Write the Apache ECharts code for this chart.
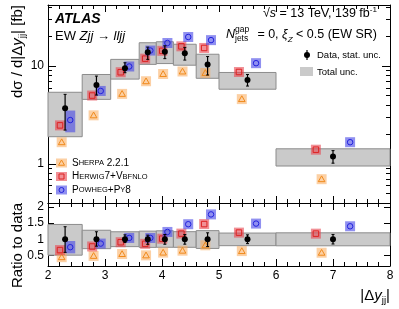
<!DOCTYPE html>
<html><head><meta charset="utf-8">
<script src="https://cdn.jsdelivr.net/npm/echarts@6/dist/echarts.min.js"></script>
<style>html,body{margin:0;padding:0;background:#fff}#c{width:399px;height:309px}</style>
</head><body><div id="c"></div>
<script>
// ---------------- data ----------------
const binEdges = [2, 2.6, 3.1, 3.6, 3.9, 4.2, 4.6, 5.0, 6.0, 8.0];
const dataXs   = [3.70, 6.40, 9.48, 13.8, 14.0, 13.5, 10.4, 7.2, 1.19];
const statLo   = [2.22, 5.06, 8.55, 11.7, 11.9, 11.5, 8.1, 6.25, 1.02];
const statHi   = [5.14, 7.9, 10.8, 15.6, 16.1, 15.5, 12.5, 8.2, 1.37];
const totLo    = [1.9, 4.57, 7.36, 10.4, 10.6, 10.2, 7.5, 5.8, 0.954];
const totHi    = [5.4, 8.2, 11.7, 17.3, 17.7, 16.7, 13.2, 8.6, 1.43];
const sherpaXs = [1.67, 3.14, 5.2, 7.0, 8.3, 8.8, 8.5, 4.6, 0.70];
const herwigXs = [2.48, 5.0, 8.65, 11.9, 14.3, 15.9, 15.3, 8.7, 1.40];
const powhegXs = [2.81, 5.57, 9.9, 14.4, 17.2, 19.8, 18.4, 10.7, 1.67];
const sherpaRelUnc = [0.03, 0.03, 0.03, 0.03, 0.03, 0.03, 0.03, 0.03, 0.03];
const herwigRelUnc = [0.08, 0.04, 0.04, 0.04, 0.04, 0.04, 0.04, 0.04, 0.04];
const powhegRelUnc = [0.25, 0.1, 0.1, 0.08, 0.05, 0.05, 0.05, 0.05, 0.05];
const xTickLabels = [2, 3, 4, 5, 6, 7, 8];
const logTickLabels = [1, 10];
const logMinorTicks = [0.4, 0.5, 0.6, 0.7, 0.8, 0.9, 2, 3, 4, 5, 6, 7, 8, 9, 20, 30, 40];
const ratioTickLabels = [0.5, 1, 1.5, 2];

// ---------------- styling ----------------
const FONT = 'Liberation Sans, Arial, Helvetica, sans-serif';
const gens = [
  {name: 'sherpa', xs: sherpaXs, unc: sherpaRelUnc, off: -0.10, sym: 'tri',  fill: 'rgba(250,170,90,0.55)', stroke: '#f08a1c'},
  {name: 'herwig', xs: herwigXs, unc: herwigRelUnc, off: -0.15, sym: 'rect', fill: 'rgba(232,70,80,0.6)', stroke: '#dd2222'},
  {name: 'powheg', xs: powhegXs, unc: powhegRelUnc, off: 0.15,  sym: 'circ', fill: 'rgba(70,70,230,0.6)', stroke: '#2222dd'}
];
const centers = binEdges.slice(0, -1).map((e, i) => (e + binEdges[i + 1]) / 2);
const widths = binEdges.slice(0, -1).map((e, i) => binEdges[i + 1] - e);

function symbolShape(sym, cx, cy, color, s) {
  if (sym === 'tri') return {type: 'polygon', shape: {points: [[cx, cy - s * 0.6], [cx + s * 0.6, cy + s * 0.45], [cx - s * 0.6, cy + s * 0.45]]}, style: {fill: 'none', stroke: color, lineWidth: 1}};
  if (sym === 'rect') return {type: 'rect', shape: {x: cx - s / 2, y: cy - s / 2, width: s, height: s}, style: {fill: 'none', stroke: color, lineWidth: 1}};
  return {type: 'circle', shape: {cx: cx, cy: cy, r: s / 2}, style: {fill: 'none', stroke: color, lineWidth: 1}};
}
function boxRender(params, api) {
  const p0 = api.coord([api.value(0), api.value(3)]);
  const p1 = api.coord([api.value(1), api.value(2)]);
  return {type: 'rect', shape: {x: p0[0], y: p0[1], width: p1[0] - p0[0], height: p1[1] - p0[1]},
          style: {fill: '#cacaca', stroke: '#8c8c8c', lineWidth: 1}};
}
function mcRender(g) {
  return function (params, api) {
    const x = api.value(0);
    const c = api.coord([x, api.value(1)]);
    const lo = api.coord([x, api.value(2)])[1];
    const hi = api.coord([x, api.value(3)])[1];
    const half = 5;
    const top = Math.min(hi, c[1] - half), bot = Math.max(lo, c[1] + half);
    return {type: 'group', children: [
      {type: 'rect', shape: {x: c[0] - half, y: top, width: 2 * half, height: bot - top}, style: {fill: g.fill}},
      symbolShape(g.sym, c[0], c[1], g.stroke, 5.5)
    ]};
  };
}
function dataRender(params, api) {
  const x = api.value(0);
  const c = api.coord([x, api.value(1)]);
  const lo = api.coord([x, api.value(2)])[1];
  const hi = api.coord([x, api.value(3)])[1];
  return {type: 'group', children: [
    {type: 'line', shape: {x1: c[0], y1: lo, x2: c[0], y2: hi}, style: {stroke: '#000', lineWidth: 1.2}},
    {type: 'line', shape: {x1: c[0] - 1.5, y1: lo, x2: c[0] + 1.5, y2: lo}, style: {stroke: '#000', lineWidth: 1}},
    {type: 'line', shape: {x1: c[0] - 1.5, y1: hi, x2: c[0] + 1.5, y2: hi}, style: {stroke: '#000', lineWidth: 1}},
    {type: 'circle', shape: {cx: c[0], cy: c[1], r: 3}, style: {fill: '#000'}}
  ]};
}

// ---------------- series data ----------------
const topBoxes = centers.map((c, i) => [binEdges[i], binEdges[i + 1], totLo[i], totHi[i]]);
const ratioBoxes = centers.map((c, i) => [binEdges[i], binEdges[i + 1], totLo[i] / dataXs[i], totHi[i] / dataXs[i]]);
const topData = centers.map((c, i) => [c, dataXs[i], statLo[i], statHi[i]]);
const ratioData = centers.map((c, i) => [c, 1, statLo[i] / dataXs[i], statHi[i] / dataXs[i]]);

const series = [
  {type: 'custom', xAxisIndex: 0, yAxisIndex: 0, renderItem: boxRender, data: topBoxes, z: 1, silent: true},
  {type: 'custom', xAxisIndex: 2, yAxisIndex: 4, renderItem: boxRender, data: ratioBoxes, z: 1, silent: true}
];
gens.forEach(g => {
  const top = centers.map((c, i) => [c + g.off * widths[i], g.xs[i], g.xs[i] * (1 - g.unc[i]), g.xs[i] * (1 + g.unc[i])]);
  const rat = centers.map((c, i) => {
    const r = g.xs[i] / dataXs[i];
    return [c + g.off * widths[i], r, r * (1 - g.unc[i]), r * (1 + g.unc[i])];
  });
  series.push({type: 'custom', xAxisIndex: 0, yAxisIndex: 0, renderItem: mcRender(g), data: top, z: 2, silent: true});
  series.push({type: 'custom', xAxisIndex: 2, yAxisIndex: 4, renderItem: mcRender(g), data: rat, z: 2, silent: true});
});
series.push({type: 'custom', xAxisIndex: 0, yAxisIndex: 0, renderItem: dataRender, data: topData, z: 3, silent: true});
series.push({type: 'custom', xAxisIndex: 2, yAxisIndex: 4, renderItem: dataRender, data: ratioData, z: 3, silent: true});

// ---------------- axes ----------------
function xAx(grid, pos, labels) {
  return {type: 'value', gridIndex: grid, position: pos, min: 2, max: 8, interval: 1,
    axisLine: {show: true, onZero: false, lineStyle: {color: '#000', width: 1}},
    axisTick: {show: true, inside: true, length: 7, lineStyle: {color: '#000'}},
    minorTick: {show: true, splitNumber: 5, length: 4, lineStyle: {color: '#000'}},
    splitLine: {show: false},
    axisLabel: {show: labels, customValues: xTickLabels, color: '#000', fontSize: 12, fontFamily: FONT, margin: 4}};
}
function logAx(pos, major) {
  return {type: 'log', logBase: 10, gridIndex: 0, position: pos, min: 0.4, max: 42,
    axisLine: {show: major, lineStyle: {color: '#000', width: 1}},
    axisTick: {show: true, inside: true, length: major ? 8 : 4, customValues: major ? logTickLabels : logMinorTicks, lineStyle: {color: '#000'}},
    splitLine: {show: false},
    axisLabel: {show: major && pos === 'left', customValues: logTickLabels, color: '#000', fontSize: 12, fontFamily: FONT, margin: 4}};
}
function ratAx(pos) {
  return {type: 'value', gridIndex: 1, position: pos, min: 0.18, max: 2.12,
    axisLine: {show: true, lineStyle: {color: '#000', width: 1}},
    axisTick: {show: true, inside: true, length: 6, customValues: ratioTickLabels, lineStyle: {color: '#000'}},
    splitLine: {show: false},
    axisLabel: {show: pos === 'left', customValues: ratioTickLabels, color: '#000', fontSize: 12, fontFamily: FONT, margin: 4}};
}

// ---------------- text & legends ----------------
const graphics = [];
function txt(x, y, text, opt) {
  graphics.push(Object.assign({type: 'text', x: x, y: y, silent: true, style: Object.assign({text: text, fill: '#000', fontFamily: FONT, fontSize: 12, verticalAlign: 'middle'}, opt.style || {})}, opt.el || {}));
}
const richBase = (fs) => ({
  n: {fontSize: fs, fontFamily: FONT, lineHeight: fs + 4},
  i: {fontSize: fs, fontFamily: FONT, fontStyle: 'italic', lineHeight: fs + 4},
  sub: {fontSize: fs * 0.65, fontFamily: FONT, lineHeight: fs * 0.5, verticalAlign: 'bottom'},
  subi: {fontSize: fs * 0.65, fontFamily: FONT, fontStyle: 'italic', lineHeight: fs * 0.5, verticalAlign: 'bottom'},
  sup: {fontSize: fs * 0.65, fontFamily: FONT, lineHeight: fs * 0.6, verticalAlign: 'top'},
  sc: {fontSize: fs * 0.75, fontFamily: FONT, lineHeight: fs + 4}
});
// ATLAS label
txt(55, 19, 'ATLAS', {style: {fontSize: 14, fontWeight: 'bold', fontStyle: 'italic', align: 'left'}});
txt(55, 36, '{n|EW }{i|Zjj}{n| \u2192 }{i|lljj}', {style: {align: 'left', rich: richBase(13)}});
txt(377, 14, '{n|\u221A}{i|s}{n| = 13 TeV, 139 fb}{sup|-1}', {style: {align: 'right', rich: richBase(12.5)}});
txt(226, 35, 'N', {style: {fontSize: 12.5, fontStyle: 'italic', align: 'left'}});
txt(235, 30, 'gap', {style: {fontSize: 8.5, align: 'left'}});
txt(235, 39, 'jets', {style: {fontSize: 8.5, align: 'left'}});
txt(377, 35, '{n|= 0, }{i|\u03BE}{subi|Z}{n| < 0.5 (EW SR)}', {style: {align: 'right', rich: richBase(12.5)}});
// Right legend
graphics.push({type: 'line', silent: true, shape: {x1: 307, y1: 50, x2: 307, y2: 60}, style: {stroke: '#000', lineWidth: 1.2}});
graphics.push({type: 'circle', silent: true, shape: {cx: 307, cy: 55, r: 3}, style: {fill: '#000'}});
txt(317, 55, 'Data, stat. unc.', {style: {fontSize: 9.5, align: 'left'}});
graphics.push({type: 'rect', silent: true, shape: {x: 300, y: 67, width: 13, height: 9}, style: {fill: '#cacaca'}});
txt(317, 72, 'Total unc.', {style: {fontSize: 9.5, align: 'left'}});
// Bottom-left legend
const legTexts = [
  '{n|S}{sc|HERPA}{n| 2.2.1}',
  '{n|H}{sc|ERWIG}{n|7+V}{sc|BFNLO}',
  '{n|P}{sc|OWHEG}{n|+P}{sc|Y}{n|8}'
];
gens.forEach((g, k) => {
  const cy = 163 + k * 13.5;
  graphics.push({type: 'rect', silent: true, shape: {x: 56, y: cy - 4.5, width: 11, height: 9}, style: {fill: g.fill}});
  graphics.push(Object.assign({silent: true}, symbolShape(g.sym, 61.5, cy, g.stroke, 5)));
  txt(72, cy, legTexts[k], {style: {align: 'left', rich: richBase(10)}});
});
// axis titles
txt(18, 5, '{n|d\u03C3 / d|\u0394}{i|y}{sub|jj}{n|| [fb]}', {style: {align: 'right', rich: richBase(15)}, el: {rotation: Math.PI / 2}});
txt(18, 203, 'Ratio to data', {style: {align: 'right', fontSize: 15}, el: {rotation: Math.PI / 2}});
txt(390, 296, '{n||\u0394}{i|y}{sub|jj}{n||}', {style: {align: 'right', rich: richBase(15)}});

const option = {
  animation: false,
  backgroundColor: '#fff',
  textStyle: {fontFamily: FONT},
  grid: [
    {left: 48, right: 9, top: 5, height: 198},
    {left: 48, right: 9, top: 203, height: 63}
  ],
  xAxis: [xAx(0, 'bottom', false), xAx(0, 'top', false), xAx(1, 'bottom', true), xAx(1, 'top', false)],
  yAxis: [logAx('left', true), logAx('left', false), logAx('right', true), logAx('right', false), ratAx('left'), ratAx('right')],
  series: series,
  graphic: graphics
};
const chart = echarts.init(document.getElementById('c'), null, {renderer: 'canvas'});
chart.setOption(option);
</script></body></html>
